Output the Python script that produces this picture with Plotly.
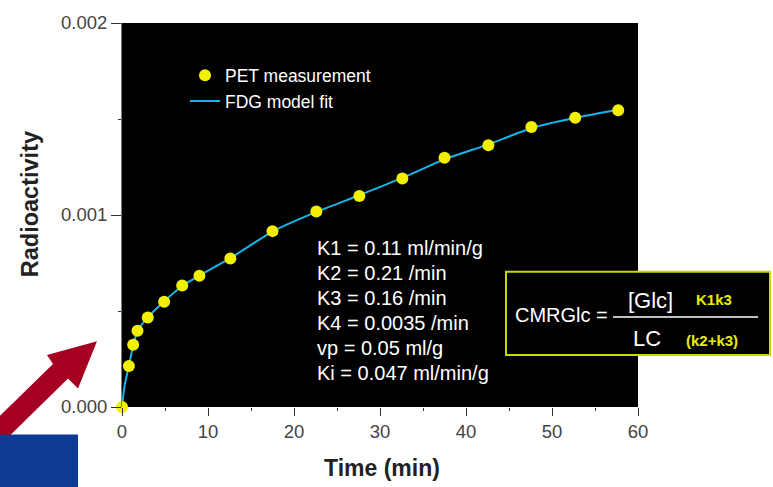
import plotly.graph_objects as go

# ---- data ----
pet_time = [0, 0.8, 1.3, 1.8, 3.0, 4.9, 7.0, 9.0, 12.6, 17.5, 22.6, 27.6, 32.6, 37.5, 42.6, 47.6, 52.7, 57.7]
pet_value = [0.0, 0.000214, 0.000324, 0.000397, 0.000466, 0.000548, 0.000633, 0.000683, 0.000773,
             0.000916, 0.001018, 0.001099, 0.001190, 0.001298, 0.001363, 0.001458, 0.001506, 0.001545]

fit_time = [0, 0.3, 0.8, 1.3, 1.8, 3.0, 4.9, 7.0, 9.0, 12.6, 17.5, 22.6, 27.6, 32.6, 37.5, 42.6, 47.6, 52.7, 57.7]
fit_value = [0.0, 0.00011, 0.000214, 0.000322, 0.000395, 0.000468, 0.000550, 0.000630, 0.000685, 0.000775,
             0.000914, 0.001016, 0.001103, 0.001193, 0.001290, 0.001368, 0.001452, 0.001506, 0.001548]

x_ticks = [0, 10, 20, 30, 40, 50, 60]
y_ticks = [0.0, 0.001, 0.002]
y_tick_labels = ["0.000", "0.001", "0.002"]
x_title = "Time (min)"
y_title = "Radioactivity"

param_lines = ["K1 = 0.11 ml/min/g", "K2 = 0.21 /min", "K3 = 0.16 /min",
               "K4 = 0.0035 /min", "vp = 0.05 ml/g", "Ki = 0.047 ml/min/g"]

W, H = 773, 487
L, R, T, B = 122, 638, 15, 407
FONT = "Arial, Liberation Sans, Helvetica, sans-serif"


def px(x):
    return (x - L) / (R - L)


def py(y):
    return (B - y) / (B - T)


fig = go.Figure()
fig.add_trace(go.Scatter(
    x=fit_time, y=fit_value, mode="lines", name="FDG model fit",
    line=dict(color="#19b4e6", width=2, shape="spline", smoothing=0.6),
    cliponaxis=False, legendgroup="b"))
fig.add_trace(go.Scatter(
    x=pet_time, y=pet_value, mode="markers", name="PET measurement",
    marker=dict(color="#f2f000", size=12, line=dict(width=0)),
    cliponaxis=False, legendgroup="a"))

shapes = []
# arrow (dark red)
arrow_pts = [(97, 340), (78, 388), (68, 378), (0, 446), (-5, 451), (-5, 421), (0, 416), (53, 363), (47, 354)]
path = "M " + " L ".join(f"{px(a):.5f},{py(b):.5f}" for a, b in arrow_pts) + " Z"
shapes.append(dict(type="path", xref="paper", yref="paper", path=path,
                   fillcolor="#a50022", line=dict(width=0), layer="above"))
# blue block bottom-left
shapes.append(dict(type="rect", xref="paper", yref="paper",
                   x0=px(-2), x1=px(78), y0=py(435), y1=py(490),
                   fillcolor="#0f3a94", line=dict(width=0), layer="above"))
# formula box
shapes.append(dict(type="rect", xref="paper", yref="paper",
                   x0=px(506), x1=px(770), y0=py(354), y1=py(269),
                   fillcolor="black", line=dict(color="#c8d800", width=2), layer="above"))
# fraction line
shapes.append(dict(type="line", xref="paper", yref="paper",
                   x0=px(613), x1=px(758), y0=py(315), y1=py(315),
                   line=dict(color="white", width=1.5), layer="above"))

ann = []
for i, s in enumerate(param_lines):
    ann.append(dict(x=px(315), y=py(245 + i * 25.4), xref="paper", yref="paper", text=s,
                    showarrow=False, xanchor="left", yanchor="middle",
                    font=dict(family=FONT, size=20, color="white")))

extra = [
    dict(x=px(513), y=py(313), text="CMRGlc =", xanchor="left",
         font=dict(family=FONT, size=20, color="white")),
    dict(x=px(650), y=py(298), text="[Glc]", xanchor="center",
         font=dict(family=FONT, size=22, color="white")),
    dict(x=px(647), y=py(337), text="LC", xanchor="center",
         font=dict(family=FONT, size=22, color="white")),
    dict(x=px(714), y=py(297), text="<b>K1k3</b>", xanchor="center",
         font=dict(family=FONT, size=15, color="#e6ee00")),
    dict(x=px(712), y=py(339), text="<b>(k2+k3)</b>", xanchor="center",
         font=dict(family=FONT, size=15, color="#e6ee00")),
    dict(x=px(382), y=py(469), text=f"<b>{x_title}</b>", xanchor="center",
         font=dict(family=FONT, size=23, color="#222")),
    dict(x=px(30), y=py(200), text=f"<b>{y_title}</b>", xanchor="center", textangle=-90,
         font=dict(family=FONT, size=23.5, color="#222")),
]
for a in extra:
    a.update(xref="paper", yref="paper", showarrow=False, yanchor="middle")
ann += extra

fig.update_layout(
    width=W, height=H,
    margin=dict(l=L, r=W - R, t=T, b=H - B, pad=0),
    paper_bgcolor="white", plot_bgcolor="black",
    font=dict(family=FONT, color="#333"),
    showlegend=True,
    legend=dict(x=px(185), y=py(50), xanchor="left", yanchor="top",
                bgcolor="rgba(0,0,0,0)", font=dict(family=FONT, size=17.5, color="white"),
                tracegroupgap=5, traceorder="reversed"),
    shapes=shapes, annotations=ann,
)
fig.update_xaxes(range=[0, 60], tickvals=x_ticks, ticks="outside", ticklen=8, tickwidth=1,
                 tickcolor="#333", showgrid=False, zeroline=False, showline=False,
                 tickfont=dict(family=FONT, size=18.5, color="#444"),
                 minor=dict(dtick=5, ticks="outside", ticklen=3, tickcolor="#333"))
fig.update_yaxes(range=[0, 0.002], tickvals=y_ticks, ticktext=y_tick_labels, ticks="outside",
                 ticklen=10, tickwidth=1, tickcolor="#333", showgrid=False, zeroline=False,
                 showline=True, linecolor="#777", linewidth=1,
                 tickfont=dict(family=FONT, size=18.5, color="#444"),
                 minor=dict(dtick=0.0005, ticks="outside", ticklen=3, tickcolor="#333"))

fig.write_html("out.html")
